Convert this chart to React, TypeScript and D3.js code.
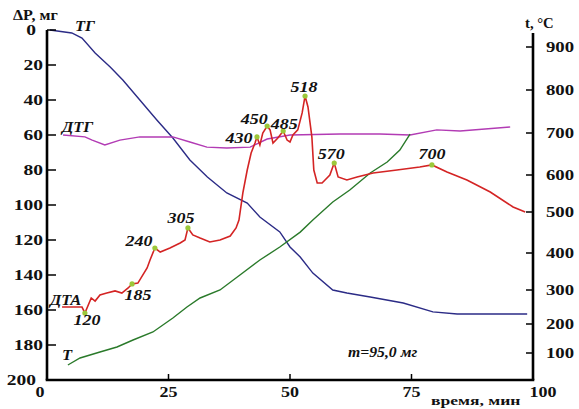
import React from "react";
import * as d3 from "d3";

const W = 579;
const H = 409;

// axis ticks
const timeTicks = [0, 25, 50, 75, 100];
const lossTicks = [0, 20, 40, 60, 80, 100, 120, 140, 160, 180, 200];
const tempTicks = [100, 200, 300, 400, 500, 600, 700, 800, 900];

// ТГ: mass loss, mg
const tgTime = [0.6, 5.1, 7.2, 9.9, 13.0, 15.6, 19.1, 22.6, 25.9, 29.4, 33.0, 37.0, 41.2, 43.8, 47.9, 50.0, 52.1, 54.7, 58.8, 61.7, 66.5, 73.3, 79.4, 84.4, 98.8];
const tgLoss = [0, 1.7, 4.6, 13.1, 21.1, 28.6, 40, 51.4, 61.7, 74.3, 84, 93.1, 98.9, 106.9, 115.4, 124, 129.7, 138.9, 148.6, 150.3, 152.6, 156, 161.1, 162.3, 162.3];

// ДТГ (relative units, drawn on the left scale)
const dtgTime = [3.3, 7.8, 9.3, 11.9, 15.0, 19.1, 25.9, 29.4, 32.9, 37.0, 41.8, 45.3, 50.0, 60.3, 68.5, 74.7, 80.2, 85.0, 95.3];
const dtgSignal = [60, 61.1, 62.9, 65.7, 62.9, 61.1, 61.1, 64, 66.9, 67.4, 66.9, 62.3, 60, 59.4, 59.4, 60, 57.1, 57.7, 55.4];

// ДТА (relative units, drawn on the left scale)
const dtaTime = [3.1, 7.2, 7.8, 9.1, 9.9, 10.9, 12.3, 14.0, 15.4, 16.7, 17.5, 18.7, 20.6, 21.2, 22.2, 23.3, 25.3, 27.4, 28.4, 29.0, 30.0, 31.5, 33.5, 35.6, 37.7, 38.9, 39.5, 40.3, 41.2, 42.0, 42.8, 43.2, 43.8, 44.4, 45.3, 45.9, 46.5, 47.5, 48.6, 49.4, 50.0, 50.6, 51.6, 52.5, 53.1, 53.7, 54.5, 54.9, 55.6, 56.6, 58.2, 59.1, 59.9, 61.7, 63.8, 67.1, 72.0, 76.7, 79.2, 82.3, 86.4, 91.2, 95.9, 98.4];
const dtaSignal = [158.3, 158.3, 161.7, 153.1, 154.9, 151.4, 150.3, 149.1, 150.3, 147.4, 145.1, 144.6, 136, 131.4, 124.6, 126.9, 124.6, 121.7, 120, 113.1, 117.1, 118.9, 121.1, 120, 117.7, 113.1, 108.6, 93.1, 80, 70.3, 64.6, 61.1, 65.7, 58.9, 54.9, 57.1, 64.6, 61.7, 57.7, 62.9, 64, 60, 57.1, 47.4, 37.7, 44, 61.1, 80, 87.4, 87.4, 82.9, 76, 84, 85.7, 84, 81.7, 80, 78.3, 77.1, 81.1, 85.7, 92.6, 101.1, 104];

// peaks marked on ДТА, labelled with temperature
const peakTime = [7.8, 17.5, 22.2, 29.0, 43.2, 45.3, 48.6, 53.1, 59.1, 79.2];
const peakSignal = [161.7, 145.1, 124.6, 113.1, 61.1, 54.9, 57.7, 37.7, 76, 77.1];
const peakLabels = ["120", "185", "240", "305", "430", "450", "485", "518", "570", "700"];

// Т: temperature, °C
const tTime = [4.3, 6.8, 10.9, 14.4, 17.7, 21.8, 25.9, 28.8, 31.5, 35.6, 39.7, 43.8, 47.9, 52.1, 54.7, 58.8, 62.3, 66.5, 70.0, 72.6, 74.7];
const tTemp = [58.6, 82.8, 103.4, 120.7, 144.8, 172.4, 217.6, 250, 276.5, 300, 340.5, 381, 414.6, 451, 480.5, 527, 559.5, 604.8, 631, 659.5, 697.6];

const x = d3.scaleLinear().domain([0, 100]).range([47, 533]);
const yLoss = d3.scaleLinear().domain([0, 200]).range([30, 380]);
// the hand-drawn temperature axis is not evenly spaced
const yTemp = d3
  .scaleLinear()
  .domain(tempTicks)
  .range([353, 324, 290, 253, 212, 175, 133, 90, 47]);

const lossLine = d3
  .line<[number, number]>()
  .x((d) => x(d[0]))
  .y((d) => yLoss(d[1]));
const tempLine = d3
  .line<[number, number]>()
  .x((d) => x(d[0]))
  .y((d) => yTemp(d[1]));

// label offsets from each peak dot (dx, dy)
const peakOffsets: [number, number][] = [
  [2, 12], [6, 16], [-16, -2], [-7, -5], [-18, 6],
  [-13, -2], [1, -2], [-1, -4], [-3, -4], [0, -6],
];

const serif = "'Liberation Serif', 'Times New Roman', serif";

function SText(props: {
  x: number;
  y: number;
  sx?: number;
  anchor?: string;
  size?: number;
  italic?: boolean;
  children: React.ReactNode;
}) {
  const { x: tx, y: ty, sx = 1.25, anchor = "start", size = 15, italic = false } = props;
  return (
    <text
      transform={`translate(${tx},${ty}) scale(${sx},1)`}
      textAnchor={anchor}
      fontFamily={serif}
      fontWeight="bold"
      fontStyle={italic ? "italic" : "normal"}
      fontSize={size}
      fill="#111"
    >
      {props.children}
    </text>
  );
}

export default function App() {
  const x0 = x(0);
  const x1 = x(100);
  const yb = yLoss(200);
  return (
    <div style={{ position: "fixed", left: 0, top: 0, width: W, height: H, overflow: "hidden", background: "#fff" }}>
      <svg width={W} height={H} style={{ display: "block" }}>
        <rect width={W} height={H} fill="#fff" />

        {/* curves */}
        <path d={lossLine(d3.zip(tgTime, tgLoss) as [number, number][]) || ""} fill="none" stroke="#2b2b86" strokeWidth={1.4} />
        <path d={lossLine(d3.zip(dtgTime, dtgSignal) as [number, number][]) || ""} fill="none" stroke="#b23bb4" strokeWidth={1.4} />
        <path d={tempLine(d3.zip(tTime, tTemp) as [number, number][]) || ""} fill="none" stroke="#2a7a2a" strokeWidth={1.4} />
        <path d={lossLine(d3.zip(dtaTime, dtaSignal) as [number, number][]) || ""} fill="none" stroke="#d42424" strokeWidth={1.6} />

        {peakTime.map((t, i) => (
          <circle key={"p" + i} cx={x(t)} cy={yLoss(peakSignal[i])} r={2.6} fill="#9cc83a" />
        ))}
        {peakLabels.map((lab, i) => (
          <SText
            key={"l" + i}
            x={x(peakTime[i]) + peakOffsets[i][0]}
            y={yLoss(peakSignal[i]) + peakOffsets[i][1]}
            anchor="middle"
            italic
            sx={1.2}
          >
            {lab}
          </SText>
        ))}

        {/* curve names */}
        <SText x={75} y={31} italic sx={1.1}>ТГ</SText>
        <SText x={62} y={132} italic sx={1.1}>ДТГ</SText>
        <SText x={50} y={305} italic sx={1.1}>ДТА</SText>
        <SText x={62} y={360} italic sx={1.1}>Т</SText>
        <SText x={348} y={357} italic sx={1.05} size={15}>m=95,0 мг</SText>

        {/* axes */}
        <g stroke="#000" fill="none">
          <line x1={x0} y1={yLoss(0)} x2={x0} y2={yb} strokeWidth={2.6} />
          <line x1={x0 - 1.3} y1={yb} x2={x1 + 1.3} y2={yb} strokeWidth={2.6} />
          <line x1={x1} y1={33} x2={x1} y2={yb} strokeWidth={2.6} />
          {lossTicks.slice(0, -1).map((v) => (
            <line key={"lt" + v} x1={x0} x2={x0 + 9} y1={yLoss(v)} y2={yLoss(v)} strokeWidth={1.5} />
          ))}
          {tempTicks.map((v) => (
            <line key={"tt" + v} x1={x1 - 7} x2={x1} y1={yTemp(v)} y2={yTemp(v)} strokeWidth={1.5} />
          ))}
          {timeTicks.slice(1, -1).map((v) => (
            <line key={"xt" + v} x1={x(v)} x2={x(v)} y1={yb} y2={yb - 6} strokeWidth={1.5} />
          ))}
        </g>

        {lossTicks.map((v, i) => (
          <SText
            key={"ll" + v}
            x={i === 0 || i === lossTicks.length - 1 ? 36 : 43}
            y={yLoss(v) + 5}
            anchor="end"
            sx={1.3}
          >
            {v}
          </SText>
        ))}
        {tempTicks.map((v) => (
          <SText key={"tl" + v} x={546} y={yTemp(v) + 5} sx={1.25}>
            {v}
          </SText>
        ))}
        {timeTicks.map((v, i) => (
          <SText
            key={"xl" + v}
            x={x(v) + (i === 0 ? -7 : i === timeTicks.length - 1 ? 10 : 0)}
            y={397}
            anchor="middle"
            sx={1.2}
          >
            {v}
          </SText>
        ))}

        <SText x={13} y={20} size={14} sx={1.15}>ΔP, мг</SText>
        <SText x={525} y={28} size={14} sx={1.05}>t, °C</SText>
        <SText x={431} y={405} size={13} sx={1.35}>время, мин</SText>
      </svg>
    </div>
  );
}
